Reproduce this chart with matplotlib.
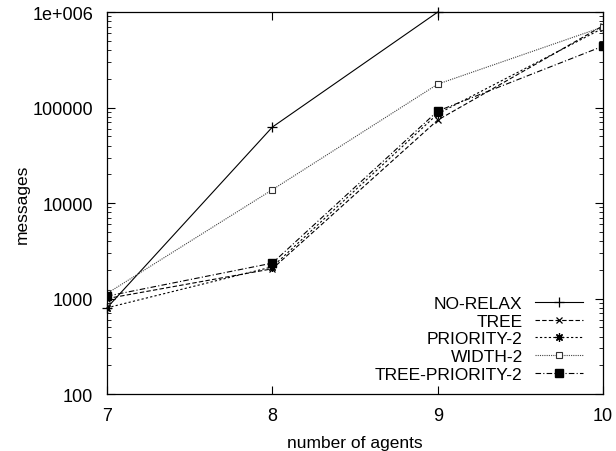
import matplotlib
matplotlib.use("Agg")
import matplotlib.pyplot as plt
from matplotlib.ticker import FixedLocator, FixedFormatter, LogLocator, NullFormatter

plt.rcParams['font.family'] = ['Liberation Sans', 'DejaVu Sans']

# data
agents = [7, 8, 9, 10]
no_relax = [800, 62500, 1000000]
tree = [1000, 2050, 74000, 720000]
priority2 = [800, 2150, 86000, 680000]
width2 = [1130, 13800, 176000, 700000]
tree_priority2 = [1060, 2350, 92000, 440000]

ytick_vals = [100, 1000, 10000, 100000, 1000000]
ytick_labels = ["100", "1000", "10000", "100000", "1e+006"]

fig = plt.figure(figsize=(6.16, 4.52), dpi=100)
ax = fig.add_axes([0.1737, 0.126, 0.979 - 0.1737, 0.971 - 0.126])

lw = 0.8
ax.plot(agents[:3], no_relax, color='black', lw=lw, ls='-', marker='+', ms=7,
        mew=0.9, label='NO-RELAX', clip_on=False)
ax.plot(agents, tree, color='black', lw=lw, ls=(0, (4, 2)), marker='x', ms=5,
        mew=0.9, label='TREE')
ax.plot(agents, priority2, color='black', lw=lw, ls=(0, (2, 2)), marker=(8, 2, 0),
        ms=6, mew=0.9, label='PRIORITY-2')
ax.plot(agents, width2, color='#444444', lw=lw, ls=(0, (1, 1)), marker='s', ms=5,
        mfc='white', mec='#333333', mew=0.8, label='WIDTH-2')
ax.plot(agents, tree_priority2, color='black', lw=lw, ls=(0, (5, 2, 1, 2)), marker='s',
        ms=6, mfc='black', mec='black', label='TREE-PRIORITY-2')

ax.set_yscale('log')
ax.set_xlim(7, 10)
ax.set_ylim(100, 1000000)

ax.xaxis.set_major_locator(FixedLocator(agents))
ax.set_xticklabels([str(a) for a in agents])
ax.yaxis.set_major_locator(FixedLocator(ytick_vals))
ax.yaxis.set_major_formatter(FixedFormatter(ytick_labels))
ax.yaxis.set_minor_locator(LogLocator(base=10, subs=range(2, 10)))
ax.yaxis.set_minor_formatter(NullFormatter())

ax.tick_params(which='both', direction='in', top=True, right=True, labelsize=13)
ax.tick_params(axis='x', which='major', length=6, pad=9)
ax.tick_params(axis='y', which='major', length=6, pad=10)
ax.tick_params(which='minor', length=3)

for s in ax.spines.values():
    s.set_linewidth(0.9)

ax.set_xlabel('number of agents', fontsize=12.5, labelpad=8)
ax.set_ylabel('messages', fontsize=12.5, labelpad=2)

leg = ax.legend(loc='lower right', frameon=False, markerfirst=False, fontsize=12.5,
                handlelength=2.8, handletextpad=0.7, labelspacing=0.15,
                borderaxespad=0.3, bbox_to_anchor=(0.985, 0.0))

fig.savefig('out.png', dpi=100)
